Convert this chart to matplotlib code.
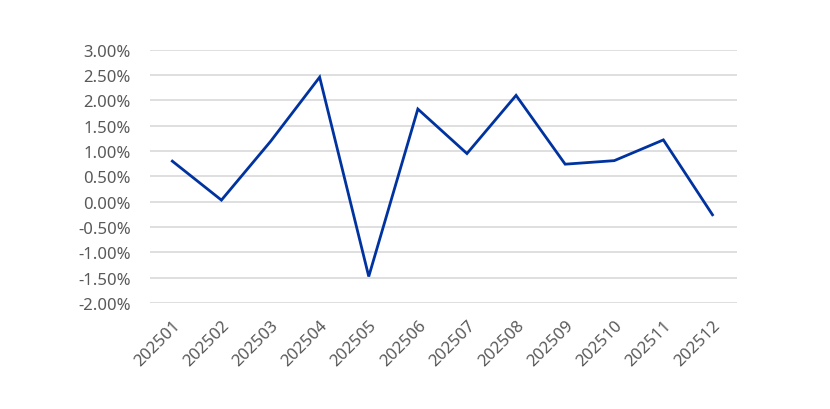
import matplotlib
matplotlib.use("Agg")
import matplotlib.pyplot as plt
from matplotlib.ticker import FuncFormatter, MultipleLocator

months = ["202501", "202502", "202503", "202504", "202505", "202506",
          "202507", "202508", "202509", "202510", "202511", "202512"]
rates = [0.80, 0.03, 1.19, 2.46, -1.48, 1.83,
         0.95, 2.10, 0.74, 0.81, 1.22, -0.26]

plt.rcParams["font.family"] = ["Noto Sans", "DejaVu Sans"]

fig = plt.figure(figsize=(8.3, 4.1), dpi=100)
ax = fig.add_axes([0.181, 0.259, 0.707, 0.617])

x = range(len(months))
ax.plot(x, rates, color="#0033a0", linewidth=2.0, solid_joinstyle="miter")

ax.set_ylim(-2.0, 3.0)
ax.set_xlim(-0.45, 11.5)
ax.yaxis.set_major_locator(MultipleLocator(0.5))
ax.yaxis.set_major_formatter(FuncFormatter(lambda v, p: f"{v:.2f}%"))
ax.grid(axis="y", color="#d9d9d9", linewidth=1.2)
ax.set_axisbelow(True)

for side in ax.spines.values():
    side.set_visible(False)

ax.set_xticks(list(x))
ax.set_xticklabels(months, rotation=45, ha="right", va="top",
                   rotation_mode="anchor")
ax.tick_params(axis="both", length=0, colors="#595959", labelsize=12)
ax.tick_params(axis="x", pad=10)
ax.tick_params(axis="y", pad=14)

fig.savefig("out.png", dpi=100)
